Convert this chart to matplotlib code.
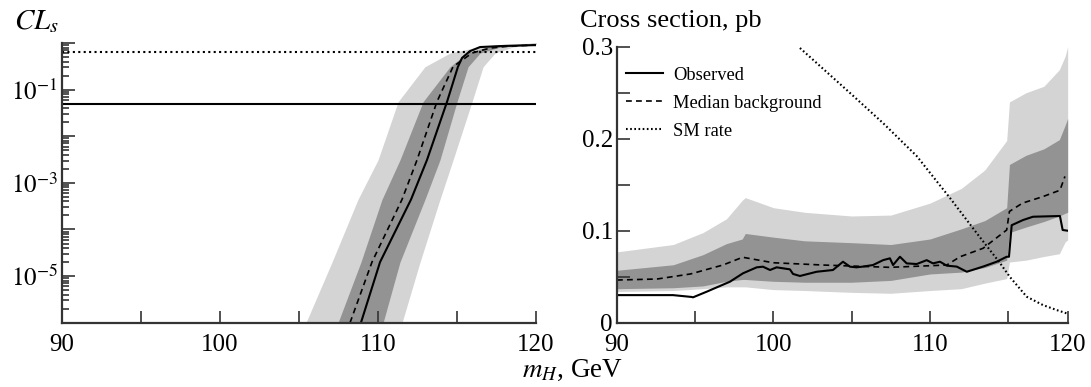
import numpy as np
import matplotlib
matplotlib.use("Agg")
import matplotlib.pyplot as plt
from matplotlib.ticker import FixedLocator, NullFormatter, FuncFormatter

plt.rcParams["font.family"] = ["Liberation Serif", "DejaVu Serif"]
plt.rcParams["mathtext.fontset"] = "stix"

# ---------------- CLs panel data ----------------
# CLs levels at which the expected-band edges are given (in mH, GeV)
cls_levels = [1e-6, 2.0e-5, 4.4e-4, 3.1e-3, 0.055, 0.31, 0.61, 0.82, 0.95, 1.0]
band2_lo_mh = [105.44, 107.09, 108.73, 110.00, 111.27, 112.97, 114.56, 116.33, 118.04, 120.0]
band2_hi_mh = [111.52, 112.66, 113.92, 114.75, 115.95, 116.65, 117.41, 118.54, 120.0, 120.0]
band1_lo_mh = [107.47, 108.92, 110.25, 111.39, 112.85, 114.56, 115.63, 116.90, 118.99, 120.0]
band1_hi_mh = [110.32, 111.39, 112.97, 113.92, 115.00, 115.70, 116.46, 117.72, 120.0, 120.0]

mh_obs_cls = [108.92, 110.13, 112.09, 113.10, 114.37, 115.06, 115.32, 115.82, 116.46, 117.72, 119.81, 120.0]
cls_obs = [1e-6, 2.0e-5, 4.4e-4, 3.1e-3, 0.055, 0.31, 0.48, 0.67, 0.82, 0.86, 0.90, 0.90]
mh_med_cls = [108.23, 109.62, 111.52, 112.47, 113.73, 114.75, 115.95, 117.09, 118.35, 119.81, 120.0]
cls_med = [1e-6, 2.0e-5, 4.4e-4, 3.1e-3, 0.055, 0.31, 0.61, 0.78, 0.86, 0.90, 0.90]

cls_exclusion = 0.05
cls_reference = 0.63

# ---------------- cross-section panel data ----------------
mh_band = [90, 93.6, 95.5, 97, 98, 98.2, 100, 102, 105, 107.5, 110, 112, 113.5,
           114.9, 115.1, 116.5, 118, 119.3, 119.8, 120]
xs2_hi = [0.077, 0.085, 0.098, 0.113, 0.133, 0.136, 0.125, 0.120, 0.116, 0.117, 0.130,
          0.146, 0.166, 0.198, 0.240, 0.250, 0.257, 0.275, 0.290, 0.300]
xs2_lo = [0.034, 0.035, 0.037, 0.039, 0.039, 0.039, 0.036, 0.035, 0.033, 0.032, 0.035,
          0.037, 0.043, 0.048, 0.066, 0.068, 0.072, 0.075, 0.088, 0.090]
xs1_hi = [0.057, 0.063, 0.074, 0.086, 0.091, 0.097, 0.093, 0.089, 0.087, 0.085, 0.091,
          0.102, 0.111, 0.125, 0.172, 0.182, 0.189, 0.199, 0.215, 0.222]
xs1_lo = [0.037, 0.038, 0.040, 0.045, 0.047, 0.047, 0.045, 0.044, 0.044, 0.046, 0.053,
          0.055, 0.060, 0.068, 0.098, 0.104, 0.110, 0.116, 0.119, 0.120]

mh_obs = [90, 93.58, 94.77, 94.86, 95.73, 97.22, 98.05, 98.93, 99.33, 99.78, 100.2,
          101.05, 101.25, 101.69, 102.76, 103.8, 104.44, 104.89, 105.3, 105.72, 106.36,
          107.0, 107.44, 107.64, 108.08, 108.51, 109.15, 109.79, 110.19, 110.64, 111.07,
          111.71, 112.35, 113.39, 114.26, 114.9, 115.06, 115.29, 116.24, 117.08, 119.35,
          119.58, 120.0]
xs_obs = [0.030, 0.030, 0.028, 0.0276, 0.0337, 0.0446, 0.0537, 0.0602, 0.0609, 0.0573,
          0.0602, 0.058, 0.053, 0.0508, 0.0554, 0.0573, 0.0663, 0.0609, 0.0602, 0.061,
          0.0627, 0.068, 0.070, 0.0627, 0.0717, 0.0645, 0.0638, 0.068, 0.0645, 0.0663,
          0.062, 0.061, 0.0554, 0.061, 0.0663, 0.0717, 0.0717, 0.106, 0.1116, 0.1152,
          0.116, 0.1008, 0.100]

mh_med = [90, 92.56, 94.7, 96.77, 97.86, 98.05, 99.97, 103.16, 107.44, 111.07, 111.92,
          113.39, 114.9, 115.1, 116.2, 117.9, 119.35, 119.77]
xs_med = [0.0464, 0.0475, 0.053, 0.0627, 0.070, 0.0711, 0.0652, 0.0627, 0.0602, 0.0627,
          0.0717, 0.0809, 0.1008, 0.121, 0.130, 0.137, 0.144, 0.159]

mh_sm = [101.69, 104.89, 107.0, 109.15, 111.28, 112.98, 114.47, 115.14, 116.55,
         117.92, 119.07, 119.91]
xs_sm = [0.2986, 0.2497, 0.217, 0.1812, 0.1355, 0.0975, 0.0649, 0.0497, 0.0283,
         0.0192, 0.0138, 0.0102]

LIGHT = "#d4d4d4"
DARK = "#939393"
TICK_FS = 18

fig = plt.figure(figsize=(10.91, 3.87), dpi=100)
ax1 = fig.add_axes([0.0568, 0.1661, 0.4345, 0.7227])
ax2 = fig.add_axes([0.5655, 0.1661, 0.4131, 0.7132])

for ax in (ax1, ax2):
    for s in ("top", "right"):
        ax.spines[s].set_visible(False)
    for s in ("left", "bottom"):
        ax.spines[s].set_linewidth(1.6)
        ax.spines[s].set_color("#333333")
    ax.tick_params(which="both", direction="in", colors="#333333", labelcolor="black",
                   labelsize=TICK_FS, width=1.2)

# ---- left: CLs vs mH ----
ax1.fill_betweenx(cls_levels, band2_lo_mh, band2_hi_mh, color=LIGHT, lw=0)
ax1.fill_betweenx(cls_levels, band1_lo_mh, band1_hi_mh, color=DARK, lw=0)
ax1.plot(mh_med_cls, cls_med, color="black", lw=1.2, ls=(0, (3.5, 2.5)))
ax1.plot(mh_obs_cls, cls_obs, color="black", lw=1.5)
ax1.axhline(cls_exclusion, color="black", lw=1.5)
ax1.axhline(cls_reference, color="black", lw=1.5, ls=(0, (1, 1.6)))
ax1.set_yscale("log")
ax1.set_xlim(90, 120)
ax1.set_ylim(1e-6, 1)
ax1.xaxis.set_major_locator(FixedLocator([90, 95, 100, 105, 110, 115, 120]))
ax1.xaxis.set_major_formatter(FuncFormatter(lambda v, p: f"{v:.0f}" if v % 10 == 0 else ""))
ax1.yaxis.set_major_locator(FixedLocator([10.0 ** k for k in range(-6, 1)]))
ax1.yaxis.set_major_formatter(FuncFormatter(
    lambda v, p: rf"$10^{{{int(round(np.log10(v)))}}}$" if int(round(np.log10(v))) in (-1, -3, -5) else ""))
ax1.yaxis.set_minor_locator(FixedLocator([m * 10.0 ** k for k in range(-6, 0) for m in range(2, 10)]))
ax1.yaxis.set_minor_formatter(NullFormatter())
ax1.tick_params(axis="x", which="major", length=9, pad=8)
ax1.tick_params(axis="y", which="major", length=9, pad=3)
ax1.tick_params(axis="y", which="minor", length=5)
ax1.text(0.013, 0.945, r"$CL_s$", transform=fig.transFigure, fontsize=21, va="center")

# ---- right: cross section vs mH (axis compressed above 115 GeV) ----
K = 0.759


def fwd(x):
    x = np.asarray(x, dtype=float)
    return np.where(x <= 115, x, 115 + (x - 115) * K)


def inv(u):
    u = np.asarray(u, dtype=float)
    return np.where(u <= 115, u, 115 + (u - 115) / K)


ax2.set_xscale("function", functions=(fwd, inv))
ax2.fill_between(mh_band, xs2_lo, xs2_hi, color=LIGHT, lw=0)
ax2.fill_between(mh_band, xs1_lo, xs1_hi, color=DARK, lw=0)
ax2.plot(mh_obs, xs_obs, color="black", lw=1.5, label="Observed")
ax2.plot(mh_med, xs_med, color="black", lw=1.2, ls=(0, (3.5, 2.5)), label="Median background")
ax2.plot(mh_sm, xs_sm, color="black", lw=1.5, ls=(0, (0.8, 1.2)), label="SM rate")
ax2.set_xlim(90, 120)
ax2.set_ylim(0, 0.3)
ax2.xaxis.set_major_locator(FixedLocator([90, 95, 100, 105, 110, 115, 120]))
ax2.xaxis.set_minor_locator(FixedLocator([]))
ax2.xaxis.set_major_formatter(FuncFormatter(lambda v, p: f"{v:.0f}" if round(v) % 10 == 0 else ""))
ax2.yaxis.set_major_locator(FixedLocator([0, 0.05, 0.1, 0.15, 0.2, 0.25, 0.3]))
ax2.yaxis.set_major_formatter(FuncFormatter(
    lambda v, p: ("0" if abs(v) < 1e-9 else f"{v:.1f}") if round(v * 100) % 10 == 0 else ""))
ax2.tick_params(axis="x", length=9, pad=8)
ax2.tick_params(axis="y", length=9, pad=3)
ax2.text(0.532, 0.946, "Cross section, pb", transform=fig.transFigure, fontsize=19, va="center")

leg = ax2.legend(loc="upper left", bbox_to_anchor=(-0.009, 0.975), frameon=False,
                 fontsize=13.3, handlelength=2.0, handletextpad=0.55, labelspacing=0.6,
                 borderaxespad=0.3)

fig.text(0.525, 0.043, r"$m_H$, GeV", fontsize=19.5, ha="center", va="center")

fig.savefig("out.png", dpi=100)
